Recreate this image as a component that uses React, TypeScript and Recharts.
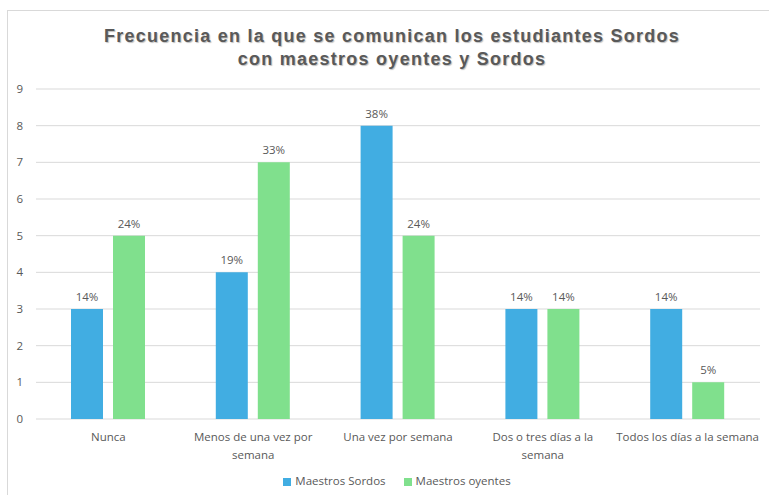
import React from "react";
import { BarChart, Bar, XAxis, YAxis, CartesianGrid, Legend, LabelList } from "recharts";

const categories = [
  "Nunca",
  "Menos de una vez por semana",
  "Una vez por semana",
  "Dos o tres días a la semana",
  "Todos los días a la semana",
];
const tickLines = [
  ["Nunca"],
  ["Menos de una vez por", "semana"],
  ["Una vez por semana"],
  ["Dos o tres días a la", "semana"],
  ["Todos los días a la semana"],
];
const maestrosSordos = [3, 4, 8, 3, 3];
const maestrosOyentes = [5, 7, 5, 3, 1];
const sordosLabels = ["14%", "19%", "38%", "14%", "14%"];
const oyentesLabels = ["24%", "33%", "24%", "14%", "5%"];
const yTicks = [0, 1, 2, 3, 4, 5, 6, 7, 8, 9];

const data = categories.map((c, i) => ({
  cat: c,
  sordos: maestrosSordos[i],
  oyentes: maestrosOyentes[i],
  sLabel: sordosLabels[i],
  oLabel: oyentesLabels[i],
}));

const FONT = "'Open Sans', 'Noto Sans', sans-serif";
const GRAY = "#595959";

const XTick = (props: any) => {
  const { x, y, index } = props;
  const lines = tickLines[index] || [String(props.payload?.value ?? "")];
  return (
    <text x={x} y={y + 4} textAnchor="middle" fill={GRAY} fontSize={11.5} fontFamily={FONT}>
      {lines.map((l: string, i: number) => (
        <tspan key={i} x={x} dy={i === 0 ? "0.85em" : 18}>
          {l}
        </tspan>
      ))}
    </text>
  );
};

export default function App() {
  return (
    <div
      style={{
        position: "absolute",
        left: 0,
        top: 0,
        width: 769,
        height: 495,
        background: "#fff",
        overflow: "hidden",
      }}
    >
      <div
        style={{
          position: "absolute",
          left: 7,
          top: 10,
          width: 800,
          height: 600,
          borderLeft: "1px solid #d9d9d9",
          borderTop: "1px solid #d9d9d9",
        }}
      />
      <div
        style={{
          position: "absolute",
          left: 0,
          top: 25,
          width: 784,
          textAlign: "center",
          fontFamily: "'Liberation Sans', Arial, sans-serif",
          fontWeight: "bold",
          fontSize: 18,
          letterSpacing: 1.25,
          lineHeight: "23px",
          color: GRAY,
          textShadow: "1px 1px 1px rgba(0,0,0,0.25)",
        }}
      >
        Frecuencia en la que se comunican los estudiantes Sordos
        <br />
        con maestros oyentes y Sordos
      </div>
      <div style={{ position: "absolute", left: 0, top: 0 }}>
        <BarChart
          width={769}
          height={495}
          data={data}
          margin={{ top: 89, right: 9, bottom: 6, left: 0 }}
          barSize={32}
          barGap={10}
        >
          <CartesianGrid vertical={false} stroke="#d9d9d9" />
          <XAxis
            dataKey="cat"
            axisLine={false}
            tickLine={false}
            interval={0}
            height={54}
            tick={<XTick />}
          />
          <YAxis
            width={36}
            domain={[0, 9]}
            ticks={yTicks}
            axisLine={false}
            tickLine={false}
            tick={{ fill: GRAY, fontSize: 11.5, fontFamily: FONT }}
            tickMargin={7}
          />
          <Legend
            verticalAlign="bottom"
            align="center"
            iconType="square"
            iconSize={8}
            wrapperStyle={{
              fontFamily: FONT,
              fontSize: 11.5,
              color: GRAY,
              lineHeight: "16px",
              paddingLeft: 52,
              boxSizing: "border-box",
            }}
            formatter={(v: string) => (
              <span style={{ color: GRAY, marginRight: 8 }}>{v}</span>
            )}
          />
          <Bar dataKey="sordos" name="Maestros Sordos" fill="#41ADE2" isAnimationActive={false}>
            <LabelList dataKey="sLabel" position="top" offset={8} fill={GRAY} fontSize={11.5} fontFamily={FONT} />
          </Bar>
          <Bar dataKey="oyentes" name="Maestros oyentes" fill="#80E08D" isAnimationActive={false}>
            <LabelList dataKey="oLabel" position="top" offset={8} fill={GRAY} fontSize={11.5} fontFamily={FONT} />
          </Bar>
        </BarChart>
      </div>
    </div>
  );
}
